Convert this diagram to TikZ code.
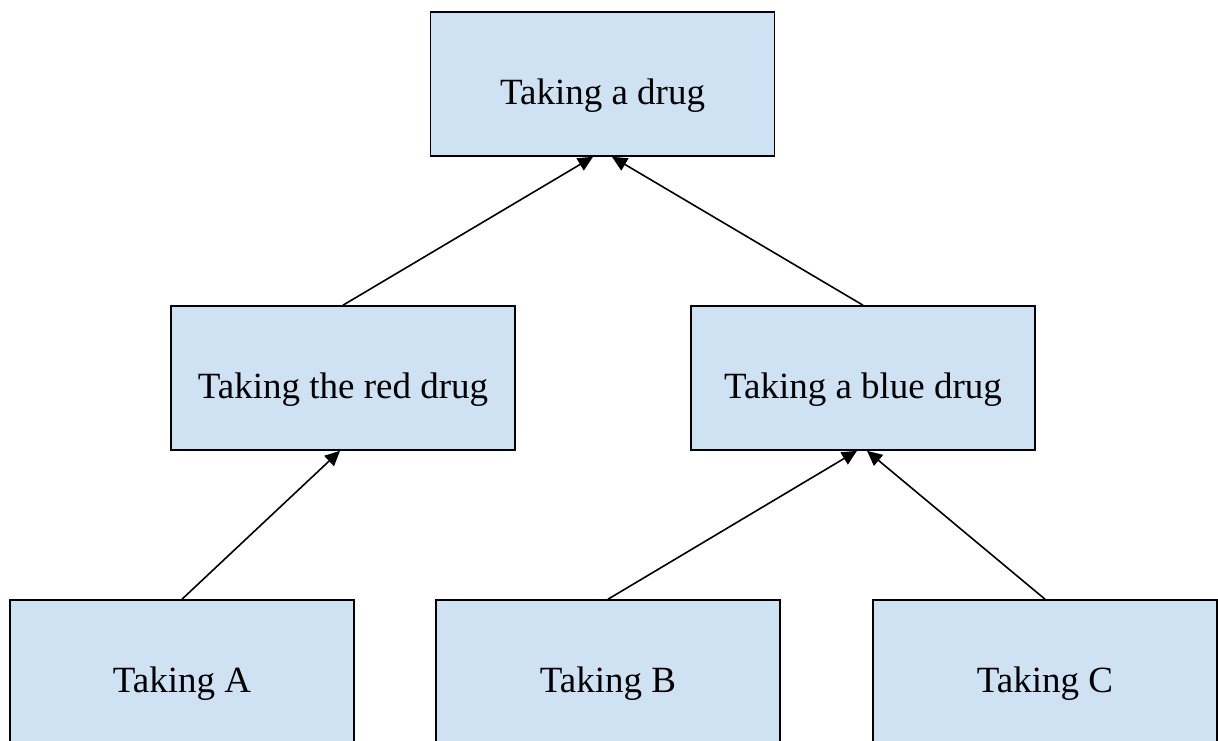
\documentclass[tikz,border=0pt]{standalone}
\usepackage{fontspec}
\setmainfont{Liberation Serif}
\usetikzlibrary{arrows.meta, positioning}

\definecolor{boxblue}{HTML}{CFE2F3}

\begin{document}
\begin{tikzpicture}[
    x=1pt, y=-1pt,
    drug/.style={rectangle, draw, line width=1.6pt, fill=boxblue, minimum width=344pt, minimum height=144pt, inner sep=0pt, text height=41pt, text depth=0pt, font=\fontsize{37}{44}\selectfont},
    arrow/.style={-{Triangle[length=15pt, width=14pt]}, line width=1.6pt}
]
\clip (0,0) rectangle (1218,740);

\node[drug] (top) at (602.5,84) {Taking a drug};
\node[drug] (red) at (343,378) {Taking the red drug};
\node[drug] (blue) at (863,378) {Taking a blue drug};
\node[drug] (takeA) at (182,672) {Taking A};
\node[drug] (takeB) at (608,672) {Taking B};
\node[drug] (takeC) at (1045,672) {Taking C};

\draw[arrow] (red.north) -- ([xshift=-9.5pt]top.south);
\draw[arrow] (blue.north) -- ([xshift=9.5pt]top.south);
\draw[arrow] (takeA.north) -- ([xshift=-3pt]red.south);
\draw[arrow] (takeB.north) -- ([xshift=-6pt]blue.south);
\draw[arrow] (takeC.north) -- ([xshift=4pt]blue.south);

\end{tikzpicture}
\end{document}
